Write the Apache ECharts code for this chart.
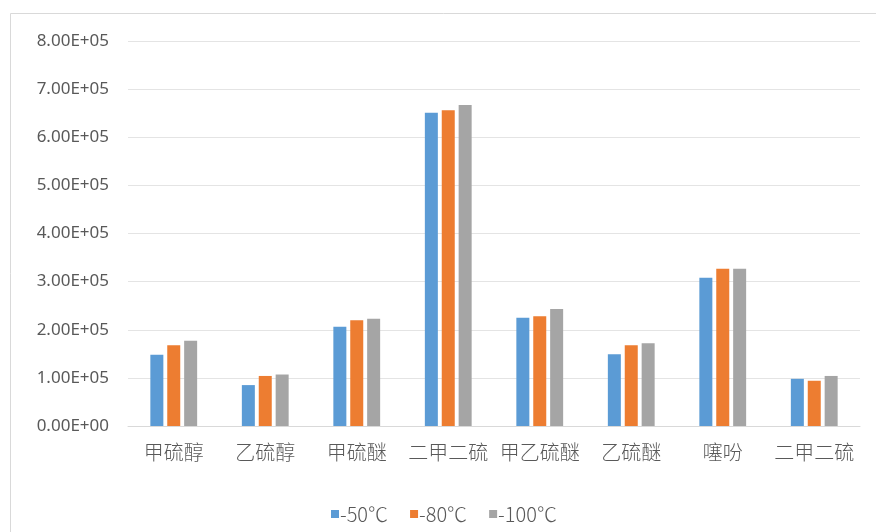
<!DOCTYPE html>
<html>
<head>
<meta charset="utf-8">
<script src="https://cdn.jsdelivr.net/npm/echarts@6/dist/echarts.min.js"></script>
<style>
  html, body { margin: 0; padding: 0; background: #fff; }
  #chart { width: 876px; height: 532px; }
</style>
</head>
<body>
<div id="chart"></div>
<script>
// Compounds measured at three cooling temperatures
const categories = ['甲硫醇', '乙硫醇', '甲硫醚', '二甲二硫', '甲乙硫醚', '乙硫醚', '噻吩', '二甲二硫'];
const seriesNames = ['-50℃', '-80℃', '-100℃'];
const values50 = [148000, 85000, 206000, 651000, 225000, 149000, 308000, 98000];
const values80 = [168000, 104000, 220000, 656000, 228000, 168000, 327000, 94000];
const values100 = [177000, 107000, 223000, 667000, 243000, 172000, 327000, 104000];
const colors = ['#5B9BD5', '#ED7D31', '#A5A5A5'];

const chart = echarts.init(document.getElementById('chart'), null, { renderer: 'canvas' });

// Scientific notation in the 0.00E+00 style
function sci(v) {
  if (v === 0) return '0.00E+00';
  const e = Math.floor(Math.log10(Math.abs(v)));
  const m = v / Math.pow(10, e);
  return m.toFixed(2) + 'E+' + String(e).padStart(2, '0');
}

const seriesData = [values50, values80, values100];
const font = '"Noto Sans CJK SC", "Noto Sans", sans-serif';

chart.setOption({
  animation: false,
  textStyle: { fontFamily: font },
  graphic: [{
    type: 'rect',
    shape: { x: 10.5, y: 13.5, width: 880, height: 540 },
    style: { fill: 'none', stroke: '#d9d9d9', lineWidth: 1 },
    silent: true
  }],
  grid: { left: 128, right: 16, top: 41, bottom: 106 },
  legend: {
    data: seriesNames,
    top: 499,
    left: 326,
    itemWidth: 8,
    itemHeight: 8,
    itemGap: 22,
    icon: 'rect',
    textStyle: { color: '#595959', fontSize: 20, fontWeight: 300, fontFamily: font, padding: [0, 0, 0, -4] }
  },
  xAxis: {
    type: 'category',
    data: categories,
    axisLine: { lineStyle: { color: '#d9d9d9' } },
    axisTick: { show: false },
    axisLabel: { color: '#595959', fontSize: 20, fontWeight: 300, margin: 16, interval: 0 }
  },
  yAxis: {
    type: 'value',
    min: 0,
    max: 800000,
    interval: 100000,
    axisLine: { show: false },
    axisTick: { show: false },
    splitLine: { lineStyle: { color: '#e4e4e4' } },
    axisLabel: { color: '#595959', fontSize: 17, fontFamily: '"Noto Sans", sans-serif', margin: 19, formatter: sci }
  },
  series: seriesNames.map((name, i) => ({
    name: name,
    type: 'bar',
    data: seriesData[i],
    barWidth: 13,
    barGap: '30%',
    itemStyle: { color: colors[i] }
  }))
});
</script>
</body>
</html>
